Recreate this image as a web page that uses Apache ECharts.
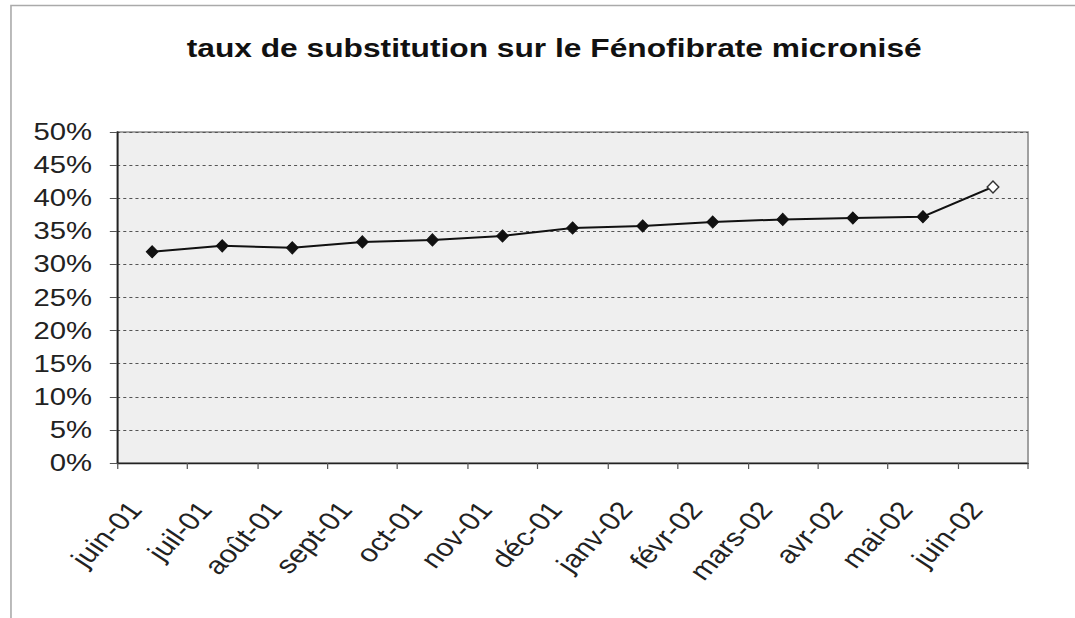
<!DOCTYPE html>
<html>
<head>
<meta charset="utf-8">
<script src="https://cdn.jsdelivr.net/npm/echarts@6/dist/echarts.min.js"></script>
<style>
  html, body { margin: 0; padding: 0; background: #ffffff; overflow: hidden; }
  /* The drawing is laid out narrower and widened horizontally, giving the wide lettering */
  #chart { width: 881px; height: 618px; transform: scaleX(1.2202); transform-origin: 0 0; }
</style>
</head>
<body>
<div id="chart"></div>
<script>
// Months of the period (French short labels)
const months = ['juin-01', 'juil-01', 'août-01', 'sept-01', 'oct-01', 'nov-01', 'déc-01',
                'janv-02', 'févr-02', 'mars-02', 'avr-02', 'mai-02', 'juin-02'];
// Substitution rate per month (fraction)
const rates = [0.319, 0.328, 0.325, 0.334, 0.337, 0.343, 0.355,
               0.358, 0.364, 0.368, 0.370, 0.372, 0.417];
// Y axis range
const yMin = 0, yMax = 0.5, yStep = 0.05;

const FONT = '"Liberation Sans", Arial, sans-serif';

const chart = echarts.init(document.getElementById('chart'), null, { renderer: 'svg' });

// The last month is drawn with a hollow marker
const seriesData = rates.map((v, i) => {
  if (i === rates.length - 1) {
    return { value: v, itemStyle: { color: '#ffffff', borderColor: '#333333', borderWidth: 1.3 } };
  }
  return v;
});

chart.setOption({
  animation: false,
  backgroundColor: '#ffffff',
  title: {
    text: 'taux de substitution sur le Fénofibrate micronisé',
    left: 148,
    top: 30,
    textStyle: { fontFamily: FONT, fontSize: 26, fontWeight: 'bold', color: '#111111' }
  },
  graphic: [
    { type: 'polyline', shape: { points: [[9, 618], [9, 5.5], [881, 5.5]] },
      style: { stroke: '#aaaaaa', lineWidth: 1.3, fill: null } }
  ],
  grid: {
    left: 96, top: 132, right: 38.5, bottom: 155,
    show: true, backgroundColor: '#efefef', borderColor: '#8a8a8a', borderWidth: 1.3
  },
  xAxis: {
    type: 'category',
    data: months,
    boundaryGap: true,
    axisLine: { lineStyle: { color: '#222222', width: 1.4 } },
    axisTick: { show: true, length: 6, lineStyle: { color: '#555555' } },
    axisLabel: {
      rotate: 51, interval: 0, margin: 25, padding: [0, 22, 0, 0],
      fontFamily: FONT, fontSize: 25, color: '#222222'
    },
    splitLine: { show: false }
  },
  yAxis: {
    type: 'value',
    min: yMin, max: yMax, interval: yStep,
    axisLine: { show: true, lineStyle: { color: '#222222', width: 1.4 } },
    axisTick: { show: true, length: 6, lineStyle: { color: '#555555' } },
    axisLabel: {
      margin: 20.5, fontFamily: FONT, fontSize: 24, color: '#222222',
      formatter: v => Math.round(v * 100) + '%'
    },
    splitLine: { show: true, lineStyle: { color: '#555555', type: [2.5, 2.5], width: 1 } }
  },
  series: [{
    type: 'line',
    data: seriesData,
    symbol: 'diamond',
    symbolSize: [9.5, 12],
    showAllSymbol: true,
    lineStyle: { color: '#111111', width: 2 },
    itemStyle: { color: '#111111', borderColor: '#111111' }
  }]
});
</script>
</body>
</html>
